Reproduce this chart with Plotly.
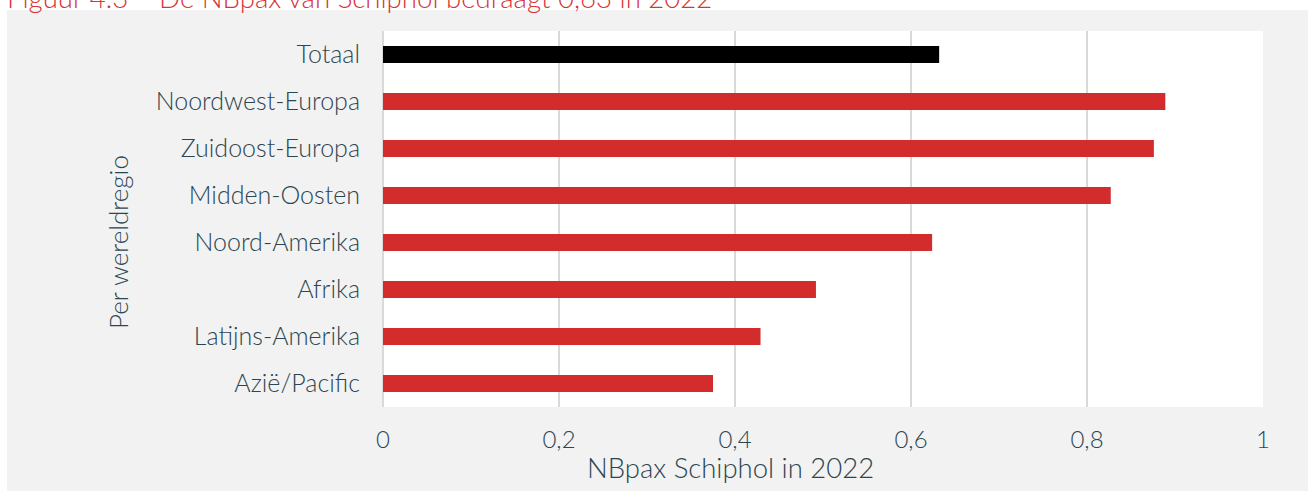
import plotly.graph_objects as go

categories = ["Totaal", "Noordwest-Europa", "Zuidoost-Europa", "Midden-Oosten",
              "Noord-Amerika", "Afrika", "Latijns-Amerika", "Azië/Pacific"]
values = [0.632, 0.889, 0.876, 0.827, 0.624, 0.492, 0.429, 0.375]
bar_colors = ["#000000"] + ["#d22d2c"] * 7
x_ticks = [0, 0.2, 0.4, 0.6, 0.8, 1]
x_tick_labels = ["0", "0,2", "0,4", "0,6", "0,8", "1"]

TEXT = "#2c4651"
FONT = "Lato"
WEIGHT = 300

fig = go.Figure(go.Bar(
    y=categories, x=values, orientation="h",
    marker=dict(color=bar_colors, line=dict(width=0)),
    width=0.36,
))

W, H = 1308, 491
L, R, T, B = 383, 45, 31, 84
pw, ph = W - L - R, H - T - B

def px(xp):
    return (xp - L) / pw

def py(yp):
    return (H - B - yp) / ph

fig.update_layout(
    width=W, height=H,
    margin=dict(l=L, r=R, t=T, b=B),
    paper_bgcolor="#f2f2f2",
    plot_bgcolor="#ffffff",
    showlegend=False,
    font=dict(family=FONT, color=TEXT, size=24, weight=WEIGHT),
    xaxis=dict(range=[0, 1], tickvals=x_ticks, ticktext=x_tick_labels,
               showgrid=True, gridcolor="#d9d9d9", gridwidth=1.5,
               zeroline=True, zerolinecolor="#d9d9d9", zerolinewidth=1.5,
               ticklabelstandoff=16,
               tickfont=dict(family=FONT, size=24, color=TEXT, weight=WEIGHT),
               fixedrange=True),
    yaxis=dict(categoryorder="array", categoryarray=categories[::-1],
               showgrid=False, ticklabelstandoff=22,
               tickfont=dict(family=FONT, size=25, color=TEXT, weight=WEIGHT),
               fixedrange=True),
    shapes=[
        dict(type="rect", xref="paper", yref="paper", layer="above",
             x0=px(0), x1=px(W), y0=py(10), y1=py(0),
             fillcolor="#ffffff", line=dict(width=0)),
        dict(type="rect", xref="paper", yref="paper", layer="above",
             x0=px(0), x1=px(7), y0=py(H), y1=py(0),
             fillcolor="#ffffff", line=dict(width=0)),
    ],
    annotations=[
        dict(text="Figuur 4.3 – De NBpax van Schiphol bedraagt 0,63 in 2022",
             xref="paper", yref="paper", x=px(5), y=py(16),
             xanchor="left", yanchor="bottom", showarrow=False,
             font=dict(family=FONT, size=27.6, color="#d7343a", weight=WEIGHT)),
        dict(text="Per wereldregio", xref="paper", yref="paper",
             x=px(118), y=py(242), textangle=-90, showarrow=False,
             xanchor="center", yanchor="middle",
             font=dict(family=FONT, size=26, color=TEXT, weight=WEIGHT)),
        dict(text="NBpax Schiphol in 2022", xref="paper", yref="paper",
             x=px(730), y=py(467), showarrow=False,
             xanchor="center", yanchor="middle",
             font=dict(family=FONT, size=27.5, color=TEXT, weight=WEIGHT)),
    ],
)

fig.write_html("out.html", config={"displayModeBar": False},
               post_script="document.body.style.margin='0';")
